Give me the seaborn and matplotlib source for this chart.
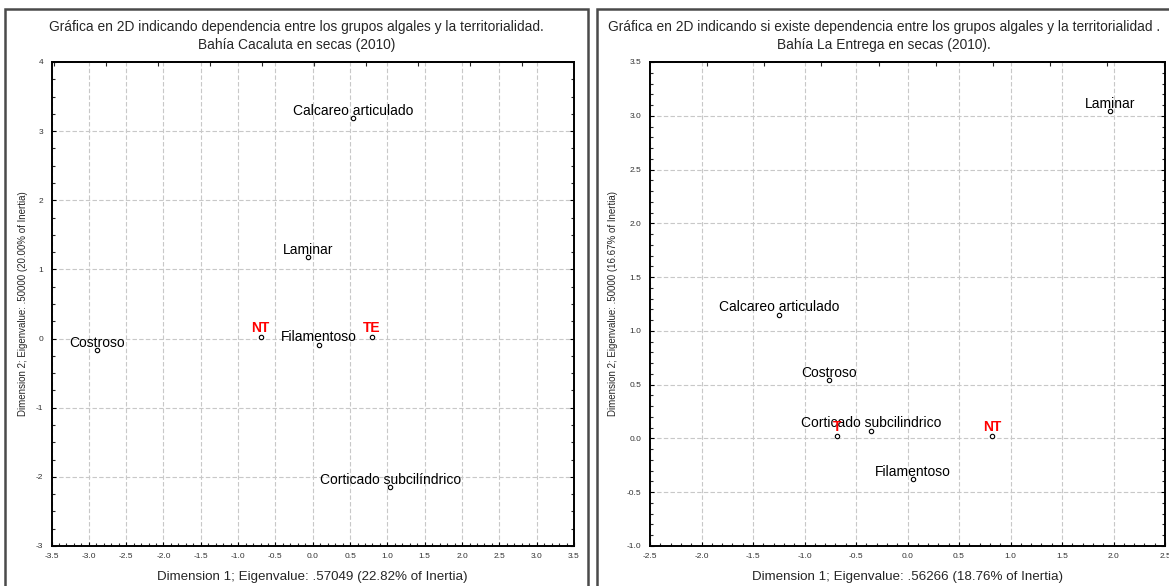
import numpy as np
import pandas as pd
import matplotlib
matplotlib.use("Agg")
import matplotlib.pyplot as plt
from matplotlib.patches import Rectangle
from matplotlib.ticker import MultipleLocator, FormatStrFormatter, FixedLocator
import seaborn as sns

# ---------------- data ----------------
left_labels = ["Calcareo articulado", "Laminar", "Costroso", "Filamentoso", "Corticado subcilíndrico"]
left_x = [0.54, -0.06, -2.89, 0.08, 1.04]
left_y = [3.19, 1.18, -0.17, -0.09, -2.15]
left_terr = ["NT", "TE"]
left_terr_x = [-0.70, 0.79]
left_terr_y = [0.02, 0.02]

right_labels = ["Laminar", "Calcareo articulado", "Costroso", "Corticado subcilindrico", "Filamentoso"]
right_x = [1.97, -1.25, -0.76, -0.35, 0.05]
right_y = [3.04, 1.15, 0.54, 0.07, -0.38]
right_terr = ["T", "NT"]
right_terr_x = [-0.68, 0.82]
right_terr_y = [0.02, 0.02]

left_title = ["Gráfica en 2D indicando dependencia entre los grupos algales y la territorialidad.",
              "Bahía Cacaluta en secas (2010)"]
right_title = ["Gráfica en 2D indicando si existe dependencia entre los grupos algales y la territorialidad .",
               "Bahía La Entrega en secas (2010)."]
left_xlabel = "Dimension 1; Eigenvalue: .57049 (22.82% of Inertia)"
left_ylabel = "Dimension 2; Eigenvalue: .50000 (20.00% of Inertia)"
right_xlabel = "Dimension 1; Eigenvalue: .56266 (18.76% of Inertia)"
right_ylabel = "Dimension 2; Eigenvalue: .50000 (16.67% of Inertia)"

# ---------------- style ----------------
sns.set_style("white")
plt.rcParams["font.family"] = ["Liberation Sans", "DejaVu Sans"]

W, H = 1169, 586
fig = plt.figure(figsize=(W / 100, H / 100), dpi=100)

def fx(px):
    return px / W

def fy(py):
    return 1 - py / H

frame_col = "#4a4a4a"
# outer frames of the two panels
fig.patches.append(Rectangle((fx(5), fy(600)), fx(583), (600 - 9) / H, transform=fig.transFigure,
                             fill=False, ec=frame_col, lw=1.8, zorder=0))
fig.patches.append(Rectangle((fx(597), fy(600)), fx(600), (600 - 9) / H, transform=fig.transFigure,
                             fill=False, ec=frame_col, lw=1.8, zorder=0))

ax_top, ax_bot = 62, 546
axL = fig.add_axes([fx(51.5), fy(ax_bot), fx(574 - 51.5), (ax_bot - ax_top) / H])
axR = fig.add_axes([fx(650), fy(ax_bot), fx(1165 - 650), (ax_bot - ax_top) / H])


def draw_panel(ax, labels, xs, ys, terr, tx, ty, xlim, ylim, ymajor, yminor, yfmt,
               top_origin, top_step, xlabel, ylabel, ylabel_x):
    df = pd.DataFrame({"x": xs + tx, "y": ys + ty})
    sns.scatterplot(data=df, x="x", y="y", ax=ax, marker="o", s=10, facecolor="white",
                    edgecolor="black", linewidth=0.8, zorder=5, legend=False)
    for lab, x, y in zip(labels, xs, ys):
        ax.annotate(lab, (x, y), xytext=(0, 2.5), textcoords="offset points", ha="center",
                    va="baseline", fontsize=10, color="black", zorder=6)
    for lab, x, y in zip(terr, tx, ty):
        ax.annotate(lab, (x, y), xytext=(0, 3.5), textcoords="offset points", ha="center",
                    va="baseline", fontsize=10, color="#ff0000", fontweight="bold", zorder=6)

    ax.set_xlim(*xlim)
    ax.set_ylim(*ylim)
    ax.xaxis.set_major_locator(MultipleLocator(0.5))
    ax.xaxis.set_minor_locator(MultipleLocator(0.1))
    ax.yaxis.set_major_locator(MultipleLocator(ymajor))
    ax.yaxis.set_minor_locator(MultipleLocator(yminor))
    ax.xaxis.set_major_formatter(FormatStrFormatter("%.1f"))
    ax.yaxis.set_major_formatter(FormatStrFormatter(yfmt))
    ax.grid(True, which="major", color="#c8c8c8", linestyle=(0, (4, 2)), linewidth=0.8)
    ax.set_axisbelow(True)

    ax.tick_params(axis="both", which="major", direction="in", length=3, width=0.8,
                   labelsize=6, colors="black", labelcolor="#333333", left=True, bottom=True,
                   right=True, top=False)
    ax.tick_params(axis="both", which="minor", direction="in", length=2, width=0.8,
                   left=True, bottom=True, right=True, top=False)
    ax.tick_params(axis="x", which="major", pad=5)
    ax.tick_params(axis="y", which="major", pad=6)

    # ticks on the top spine follow a different (secondary) scale
    sec = ax.secondary_xaxis("top")
    start = top_origin - top_step * np.floor((top_origin - xlim[0]) / top_step)
    sec.xaxis.set_major_locator(FixedLocator(np.arange(start, xlim[1], top_step)))
    sec.tick_params(direction="in", length=3, width=0.8, labeltop=False)
    sec.spines["top"].set_linewidth(1.4)

    for s in ax.spines.values():
        s.set_color("black")
        s.set_linewidth(1.4)
        s.set_visible(True)

    ax.set_xlabel(xlabel, fontsize=9.6)
    ax.xaxis.set_label_coords(0.5, -(577 - ax_bot) / (ax_bot - ax_top))
    ax.xaxis.label.set_va("center")
    ax.set_ylabel(ylabel, fontsize=7)
    ax.yaxis.set_label_coords(ylabel_x, 0.5)
    ax.yaxis.label.set_va("center")


draw_panel(axL, left_labels, left_x, left_y, left_terr, left_terr_x, left_terr_y,
           (-3.5, 3.5), (-3, 4), 1, 0.25, "%.0f", 0.02, 0.697,
           left_xlabel, left_ylabel, (23 - 51.5) / (574 - 51.5))
draw_panel(axR, right_labels, right_x, right_y, right_terr, right_terr_x, right_terr_y,
           (-2.5, 2.5), (-1.0, 3.5), 0.5, 0.1, "%.1f", 1.94, 0.555,
           right_xlabel, right_ylabel, (613 - 650) / (1165 - 650))

for cx, lines in ((296.5, left_title), (884, right_title)):
    fig.text(fx(cx), fy(27.5), lines[0], ha="center", va="center", fontsize=9.9)
    fig.text(fx(cx), fy(45.5), lines[1], ha="center", va="center", fontsize=9.9)

fig.savefig("out.png", dpi=100, facecolor="white")
